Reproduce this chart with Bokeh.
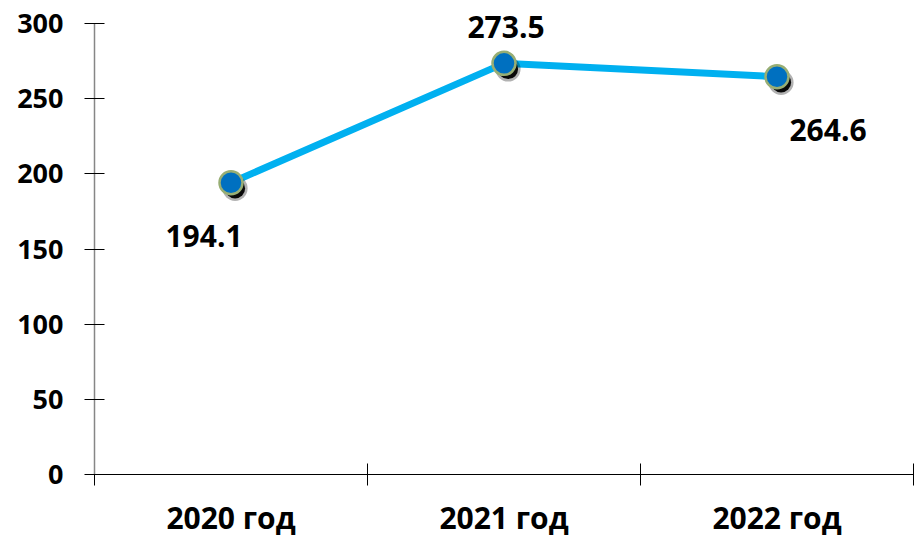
from bokeh.plotting import figure
from bokeh.models import Range1d, FixedTicker, LinearAxis, ColumnDataSource
from bokeh.transform import dodge
from bokeh.core.properties import value
from bokeh.embed import file_html
from bokeh.resources import INLINE

years = ["2020 год", "2021 год", "2022 год"]
values = [194.1, 273.5, 264.6]
y_ticks = [0, 50, 100, 150, 200, 250, 300]
y_max = 300

FONT = "Open Sans"
xs = [i + 0.5 for i in range(len(years))]
labels = [f"{v:.1f}" for v in values]
label_dx = [-27, 2, 51]
label_dy = [53, -36, 53]   # screen pixels, positive = down

src = ColumnDataSource(dict(x=xs, y=values, lab=labels, dx=label_dx, dy=label_dy))

# frame extends a little above the axis top so the upper label is not clipped
p = figure(width=915, height=540, output_backend="svg", toolbar_location=None,
           x_range=Range1d(0, len(years)), y_range=Range1d(0, y_max + 12),
           min_border_left=94, min_border_right=2, min_border_top=5, min_border_bottom=66)
p.outline_line_color = None
p.xgrid.visible = False
p.ygrid.visible = False
p.background_fill_color = "white"
p.border_fill_color = "white"

# y axis
ya = p.yaxis[0]
ya.bounds = (0, y_max)
ya.ticker = FixedTicker(ticks=y_ticks, minor_ticks=[])
ya.axis_line_color = "#868686"
ya.axis_line_width = 1.5
ya.major_tick_line_color = "black"
ya.major_tick_in = 10
ya.major_tick_out = 10
ya.major_label_standoff = 21
ya.major_label_text_font = FONT
ya.major_label_text_font_style = "bold"
ya.major_label_text_font_size = "27px"
ya.major_label_text_color = "black"

# x axis: boundary ticks
xa = p.xaxis[0]
xa.ticker = FixedTicker(ticks=list(range(len(years) + 1)), minor_ticks=[])
xa.major_label_overrides = {i: " " for i in range(len(years) + 1)}
xa.major_label_text_font_size = "1px"
xa.major_label_standoff = 0
xa.axis_line_color = "black"
xa.major_tick_line_color = "black"
xa.major_tick_in = 11
xa.major_tick_out = 11

# x axis: category labels
xa2 = LinearAxis(ticker=FixedTicker(ticks=xs, minor_ticks=[]),
                 major_label_overrides={x: y for x, y in zip(xs, years)})
xa2.axis_line_color = None
xa2.major_tick_line_color = None
xa2.major_tick_in = 0
xa2.major_tick_out = 0
xa2.major_label_standoff = 7
xa2.major_label_text_font = FONT
xa2.major_label_text_font_style = "bold"
xa2.major_label_text_font_size = "30px"
xa2.major_label_text_color = "black"
p.add_layout(xa2, "below")

# line
p.line("x", "y", source=src, line_color="#00B0F0", line_width=7)

# marker shadow
p.scatter(dodge("x", 0.015, range=p.x_range), dodge("y", -3.8, range=p.y_range), source=src,
          size=25, fill_color="black", fill_alpha=0.3, line_color=None)
p.scatter(dodge("x", 0.015, range=p.x_range), dodge("y", -3.8, range=p.y_range), source=src,
          size=20, fill_color="black", fill_alpha=0.95, line_color=None)
# markers
p.scatter("x", "y", source=src, size=23, fill_color="#0070C0", line_color="#98AE74", line_width=2.5)

# data labels
p.text("x", "y", text="lab", source=src, x_offset="dx", y_offset="dy",
       text_font=value(FONT), text_font_style="bold", text_font_size="30px",
       text_align="center", text_baseline="middle", text_color="black")

open("out.html", "w").write(file_html(p, INLINE))
